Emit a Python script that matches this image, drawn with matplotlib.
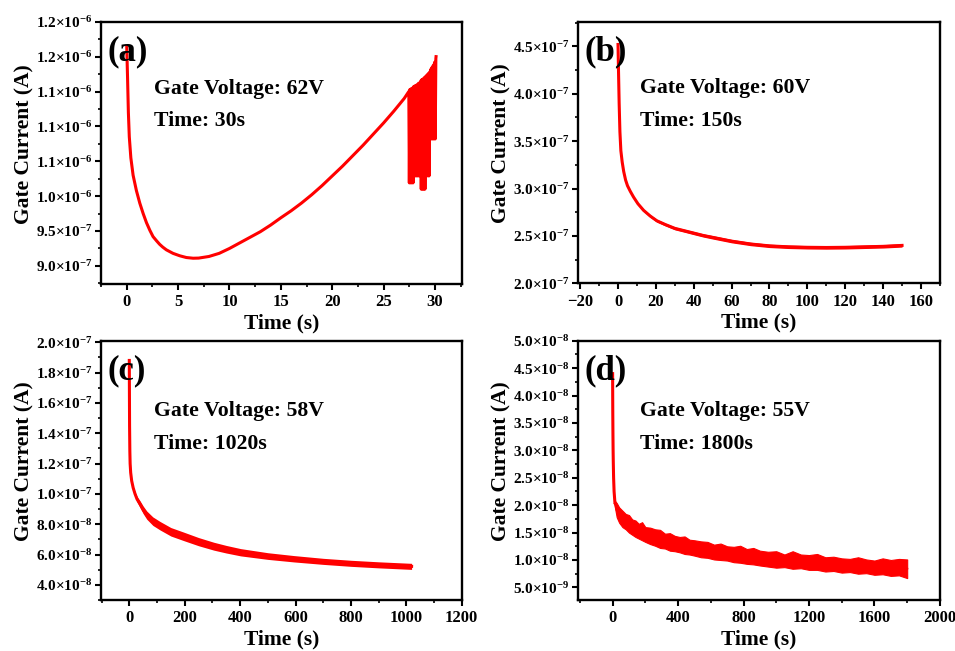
import matplotlib
matplotlib.use("Agg")
import matplotlib.pyplot as plt
import numpy as np
from matplotlib.ticker import FixedLocator, FixedFormatter, MultipleLocator, AutoMinorLocator

plt.rcParams['font.family'] = ['Liberation Serif', 'DejaVu Serif']
plt.rcParams['font.weight'] = 'bold'
plt.rcParams['mathtext.fontset'] = 'custom'
plt.rcParams['mathtext.rm'] = 'Liberation Serif:bold'
plt.rcParams['mathtext.bf'] = 'Liberation Serif:bold'
plt.rcParams['mathtext.it'] = 'Liberation Serif:bold:italic'
plt.rcParams['axes.unicode_minus'] = True

RED = '#FF0000'

# ---------------- (a) 62 V, 30 s ----------------
ta = [0, 0.08, 0.16, 0.25, 0.4, 0.62, 0.94, 1.27, 1.6, 1.92, 2.25, 2.56, 2.9, 3.2, 3.5, 3.86,
      4.5, 5.16, 5.8, 6.46, 7, 8, 9, 10, 11, 12, 13, 14, 15, 16, 17, 18, 19, 20, 21, 22, 23,
      24, 25, 26, 27, 27.45]
ia = [12.15, 11.7, 11.2, 10.85, 10.55, 10.3, 10.08, 9.9, 9.75, 9.62, 9.51, 9.42, 9.36, 9.31,
      9.27, 9.23, 9.18, 9.145, 9.12, 9.11, 9.112, 9.135, 9.18, 9.25, 9.33, 9.41, 9.49, 9.585,
      9.69, 9.79, 9.90, 10.02, 10.15, 10.29, 10.43, 10.58, 10.73, 10.89, 11.05, 11.22, 11.40,
      11.50]
# noisy bursts at the end of (a)
ta_spk = [27.50, 27.56, 27.62, 27.68, 27.74, 27.80, 27.86, 27.92, 27.98, 28.04, 28.10,
          28.16, 28.22, 28.28, 28.34, 28.40, 28.46, 28.60, 28.66, 28.72, 28.78, 28.84, 28.90,
          28.96, 29.02, 29.10, 29.18, 29.24, 29.30, 29.36, 29.42, 29.48, 29.54, 29.60, 29.66,
          29.72, 29.78, 29.84, 29.90, 29.96, 30.02, 30.08, 30.10]
ia_spk = [10.19, 11.53, 10.19, 11.54, 10.19, 11.55, 10.19, 11.57, 10.29, 11.58, 10.29,
          11.59, 10.29, 11.60, 10.29, 11.62, 10.29, 11.65, 10.10, 11.67, 10.10, 11.68, 10.10,
          11.70, 10.10, 11.72, 11.00, 11.74, 10.29, 11.76, 10.29, 11.78, 10.82, 11.82, 10.82,
          11.85, 10.82, 11.88, 10.82, 11.92, 10.82, 11.97, 12.00]
ya_ticks = [9.0e-7, 9.5e-7, 1.0e-6, 1.05e-6, 1.10e-6, 1.15e-6, 1.20e-6, 1.25e-6]
ya_labels = ['9.0×10$^{-7}$', '9.5×10$^{-7}$', '1.0×10$^{-6}$', '1.1×10$^{-6}$',
             '1.1×10$^{-6}$', '1.1×10$^{-6}$', '1.2×10$^{-6}$', '1.2×10$^{-6}$']

# ---------------- (b) 60 V, 150 s ----------------
tb = [0, 0.3, 0.6, 1.0, 1.5, 2.2, 3.0, 4.0, 5.0, 6.5, 8.2, 10.5, 13.5, 17, 20.5, 25, 30, 35,
      40, 45, 50, 55, 60, 70, 80, 90, 100, 110, 120, 130, 140, 150]
ib = [4.52, 4.2, 3.9, 3.6, 3.4, 3.28, 3.18, 3.09, 3.03, 2.97, 2.91, 2.84, 2.77, 2.71, 2.66, 2.62,
      2.58, 2.555, 2.53, 2.505, 2.485, 2.465, 2.445, 2.415, 2.395, 2.385, 2.38, 2.378, 2.38,
      2.385, 2.39, 2.40]
ib_hw = [0, 0, 0, 0, 0, 0, 0, 0, 0, 0.005, 0.008, 0.01, 0.012, 0.014, 0.015, 0.015, 0.016,
         0.016, 0.017, 0.017, 0.018, 0.018, 0.018, 0.018, 0.018, 0.018, 0.018, 0.018, 0.018,
         0.018, 0.018, 0.018]
yb_ticks = [2.0e-7, 2.5e-7, 3.0e-7, 3.5e-7, 4.0e-7, 4.5e-7]
yb_labels = ['2.0×10$^{-7}$', '2.5×10$^{-7}$', '3.0×10$^{-7}$', '3.5×10$^{-7}$',
             '4.0×10$^{-7}$', '4.5×10$^{-7}$']

# ---------------- (c) 58 V, 1020 s ----------------
tc = [0, 0.5, 1, 2, 3, 5, 8.6, 14, 20.7, 28, 38.8, 50, 63, 85, 111, 150, 196, 250, 305, 350,
      402, 500, 595, 700, 801, 900, 1019]
ic = [18.8, 16.5, 14.5, 12.8, 12.0, 11.4, 10.86, 10.4, 10.0, 9.65, 9.32, 8.95, 8.6, 8.2, 7.9,
      7.5, 7.2, 6.85, 6.55, 6.35, 6.15, 5.9, 5.72, 5.55, 5.42, 5.32, 5.22]
ic_hw = [0, 0, 0, 0, 0, 0.05, 0.08, 0.1, 0.14, 0.18, 0.22, 0.25, 0.27, 0.28, 0.28, 0.28, 0.28,
         0.27, 0.26, 0.25, 0.24, 0.22, 0.21, 0.2, 0.2, 0.2, 0.2]
yc_ticks = [4.0e-8, 6.0e-8, 8.0e-8, 1.0e-7, 1.2e-7, 1.4e-7, 1.6e-7, 1.8e-7, 2.0e-7]
yc_labels = ['4.0×10$^{-8}$', '6.0×10$^{-8}$', '8.0×10$^{-8}$', '1.0×10$^{-7}$',
             '1.2×10$^{-7}$', '1.4×10$^{-7}$', '1.6×10$^{-7}$', '1.8×10$^{-7}$', '2.0×10$^{-7}$']

# ---------------- (d) 55 V, 1800 s ----------------
td_head = [0, 0.5, 1, 2, 3, 4, 6, 9, 14]
id_head = [44, 40, 37, 33, 30, 28, 25, 22.5, 20.5]
td = [14, 25, 40, 60, 80, 100, 120, 140, 160, 180, 200, 230, 260, 290, 320, 350, 380, 410, 440,
      470, 500, 540, 580, 620, 660, 700, 740, 780, 820, 860, 900, 950, 1000, 1050, 1100, 1150,
      1200, 1250, 1300, 1350, 1400, 1450, 1500, 1550, 1600, 1650, 1700, 1750, 1800]
id_up = [20.8, 20.4, 19.6, 19.0, 18.4, 18.2, 17.4, 17.2, 16.6, 16.9, 16.0, 15.9, 15.6, 15.5,
         14.8, 14.9, 14.4, 14.2, 14.3, 13.7, 13.6, 13.4, 13.3, 12.8, 13.0, 12.5, 12.4, 12.6,
         12.0, 12.2, 11.7, 11.5, 11.6, 11.0, 11.6, 11.0, 10.9, 11.1, 10.5, 10.6, 10.3, 10.2,
         10.5, 10.1, 9.9, 10.3, 10.0, 10.2, 10.1]
id_lo = [19.6, 17.8, 16.8, 16.0, 15.6, 15.0, 14.6, 14.2, 13.9, 13.6, 13.3, 12.9, 12.6, 12.2,
         12.1, 11.7, 11.6, 11.4, 11.1, 11.0, 10.8, 10.5, 10.4, 10.1, 10.0, 9.9, 9.6, 9.5, 9.3,
         9.2, 9.0, 8.8, 8.6, 8.7, 8.4, 8.5, 8.2, 8.2, 7.9, 8.0, 7.7, 7.8, 7.5, 7.6, 7.3, 7.4,
         7.1, 7.2, 6.7]
yd_ticks = [5.0e-9, 1.0e-8, 1.5e-8, 2.0e-8, 2.5e-8, 3.0e-8, 3.5e-8, 4.0e-8, 4.5e-8, 5.0e-8]
yd_labels = ['5.0×10$^{-9}$', '1.0×10$^{-8}$', '1.5×10$^{-8}$', '2.0×10$^{-8}$',
             '2.5×10$^{-8}$', '3.0×10$^{-8}$', '3.5×10$^{-8}$', '4.0×10$^{-8}$',
             '4.5×10$^{-8}$', '5.0×10$^{-8}$']

panel_tags = ['(a)', '(b)', '(c)', '(d)']
voltages = ['Gate Voltage: 62V', 'Gate Voltage: 60V', 'Gate Voltage: 58V', 'Gate Voltage: 55V']
durations = ['Time: 30s', 'Time: 150s', 'Time: 1020s', 'Time: 1800s']

fig = plt.figure(figsize=(9.55, 6.51), dpi=100)
axa = fig.add_axes([0.1058, 0.5637, 0.3777, 0.4029])
axb = fig.add_axes([0.6055, 0.5648, 0.3787, 0.4018])
axc = fig.add_axes([0.1058, 0.0783, 0.3777, 0.3983])
axd = fig.add_axes([0.6055, 0.0783, 0.3787, 0.3983])

# (a)
axa.plot(ta + ta_spk, np.array(ia + ia_spk) * 1e-7, color=RED, lw=2.2)
# (b)
tb_a = np.array(tb); ib_a = np.array(ib) * 1e-7; hwb = np.array(ib_hw) * 1e-7
axb.fill_between(tb_a, ib_a - hwb, ib_a + hwb, color=RED, lw=0)
axb.plot(tb_a, ib_a, color=RED, lw=2.2)
# (c)
tc_a = np.array(tc); ic_a = np.array(ic) * 1e-8; hwc = np.array(ic_hw) * 1e-8
axc.fill_between(tc_a, ic_a - hwc, ic_a + hwc, color=RED, lw=0)
axc.plot(tc_a, ic_a, color=RED, lw=2.2)
# (d)
td_a = np.array(td); up = np.array(id_up) * 1e-9; lo = np.array(id_lo) * 1e-9
axd.fill_between(td_a, lo, up, color=RED, lw=0.8, edgecolor=RED)
axd.plot(td_head, np.array(id_head) * 1e-9, color=RED, lw=2.2)
axd.plot(td_a, (up + lo) / 2, color=RED, lw=1.5)

cfg = [
    (axa, (-2.5, 32.6), (8.74e-7, 1.25e-6), 5, 2.5, ya_ticks, ya_labels),
    (axb, (-21, 170), (2.0e-7, 4.76e-7), 20, 10, yb_ticks, yb_labels),
    (axc, (-102, 1200), (3.0e-8, 2.01e-7), 200, 100, yc_ticks, yc_labels),
    (axd, (-210, 2000), (2.7e-9, 5.0e-8), 400, 200, yd_ticks, yd_labels),
]
for i, (ax, xl, yl, xmaj, xmin, yt, ylab) in enumerate(cfg):
    ax.set_xlim(*xl)
    ax.set_ylim(*yl)
    ax.xaxis.set_major_locator(MultipleLocator(xmaj))
    ax.xaxis.set_minor_locator(MultipleLocator(xmin))
    ax.yaxis.set_major_locator(FixedLocator(yt))
    ax.yaxis.set_major_formatter(FixedFormatter(ylab))
    ax.yaxis.set_minor_locator(AutoMinorLocator(2))
    for s in ax.spines.values():
        s.set_linewidth(1.7)
    ax.tick_params(which='major', direction='out', length=4.5, width=1.5, top=False, right=False)
    ax.tick_params(which='minor', direction='out', length=2.5, width=1.2, top=False, right=False)
    ax.tick_params(axis='x', labelsize=12, pad=3)
    ax.tick_params(axis='y', labelsize=11, pad=2)
    ax.set_xlabel('Time (s)', fontsize=15.5, fontweight='bold', labelpad=2)
    ax.set_ylabel('Gate Current (A)', fontsize=15.5, fontweight='bold')
    ax.yaxis.set_label_coords(-0.185, 0.535)
    ax.text(0.018, 0.885, panel_tags[i], transform=ax.transAxes, fontsize=25,
            fontweight='bold', ha='left', va='center')
    tx = 0.146 if i in (0, 2) else 0.171
    ty1 = 0.745 if i < 2 else 0.730
    ty2 = 0.622 if i < 2 else 0.600
    ax.text(tx, ty1, voltages[i], transform=ax.transAxes, fontsize=15.7,
            fontweight='bold', ha='left', va='center')
    ax.text(tx, ty2, durations[i], transform=ax.transAxes, fontsize=15.7,
            fontweight='bold', ha='left', va='center')

fig.savefig('out.png', dpi=100)
